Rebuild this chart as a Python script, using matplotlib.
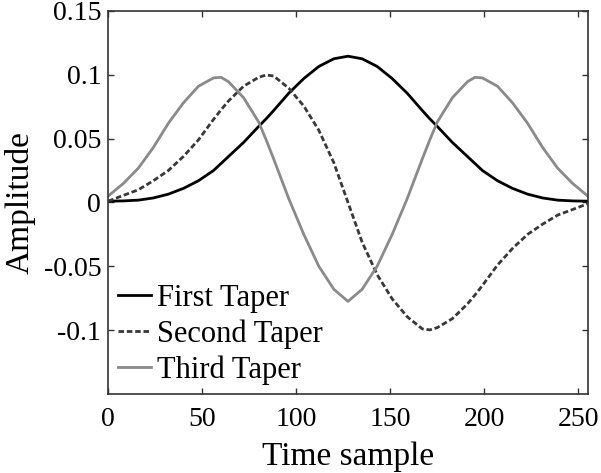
import numpy as np
from matplotlib import pyplot as plt

# sample positions read along the time axis (0..255)
time_sample = [0, 8, 16, 24, 32, 40, 48, 56, 60, 64, 72, 80, 84, 88, 96, 104, 112, 120, 127.5,
               135, 143, 151, 159, 167, 171, 175, 183, 191, 195, 199, 207, 215, 223, 231, 239,
               247, 255]

first_taper = [0.001, 0.0012, 0.0018, 0.0035, 0.0065, 0.011, 0.017, 0.025, 0.0305, 0.036,
               0.047, 0.0595, 0.0655, 0.072, 0.0855, 0.097, 0.1065, 0.1125, 0.1145,
               0.1125, 0.1065, 0.097, 0.0855, 0.072, 0.0655, 0.0595, 0.047, 0.036, 0.0305,
               0.025, 0.017, 0.011, 0.0065, 0.0035, 0.0018, 0.0012, 0.001]

second_taper = [0.001, 0.0055, 0.0099, 0.017, 0.025, 0.036, 0.049, 0.065, 0.0725, 0.0795,
                0.091, 0.098, 0.0998, 0.099, 0.0895, 0.0755, 0.0565, 0.031, 0.0,
                -0.031, -0.0565, -0.0755, -0.0895, -0.099, -0.0998, -0.098, -0.091, -0.0795,
                -0.0725, -0.065, -0.049, -0.036, -0.025, -0.017, -0.0099, -0.0055, -0.001]

third_taper = [0.005, 0.0148, 0.0268, 0.043, 0.062, 0.078, 0.091, 0.0975, 0.098, 0.0945,
               0.082, 0.063, 0.049, 0.034, 0.003, -0.025, -0.050, -0.068, -0.0775,
               -0.068, -0.050, -0.025, 0.003, 0.034, 0.049, 0.063, 0.082, 0.0945, 0.098,
               0.0975, 0.091, 0.078, 0.062, 0.043, 0.0268, 0.0148, 0.005]

x_ticks = [0, 50, 100, 150, 200, 250]
y_ticks = [-0.1, -0.05, 0, 0.05, 0.1, 0.15]
y_tick_labels = ['-0.1', '-0.05', '0', '0.05', '0.1', '0.15']

plt.rcParams['font.family'] = ['Liberation Serif', 'DejaVu Serif']
plt.rcParams['mathtext.fontset'] = 'stix'

fig = plt.figure(figsize=(6.01, 4.73), dpi=100)
ax = fig.add_axes([0.18, 0.167, 0.798, 0.81])

ax.plot(time_sample, first_taper, color='black', linewidth=2.0, label='First Taper')
ax.plot(time_sample, second_taper, color='#383838', linewidth=2.0, linestyle=(0, (2.0, 1.0)),
        label='Second Taper')
ax.plot(time_sample, third_taper, color='#8a8a8a', linewidth=2.0, label='Third Taper')

ax.set_xlim(0, 255)
ax.set_ylim(-0.15, 0.15)
ax.set_xticks(x_ticks)
ax.set_yticks(y_ticks)
ax.set_yticklabels(y_tick_labels)
ax.tick_params(direction='in', length=4, width=1, top=True, right=True,
               labelsize=20, pad=5, colors='#333333', labelcolor='black')
ax.tick_params(axis='x', pad=9)
for spine in ax.spines.values():
    spine.set_color('#333333')
    spine.set_linewidth(1.2)

ax.set_xlabel('Time sample', fontsize=24, labelpad=7)
ax.set_ylabel('Amplitude', fontsize=24, labelpad=6)

ax.legend(loc='upper left', bbox_to_anchor=(0.02, 0.287), frameon=False, fontsize=22,
          handlelength=1.1, handletextpad=0.2, labelspacing=0.21, borderpad=0,
          borderaxespad=0)

plt.savefig('out.png', dpi=100)
